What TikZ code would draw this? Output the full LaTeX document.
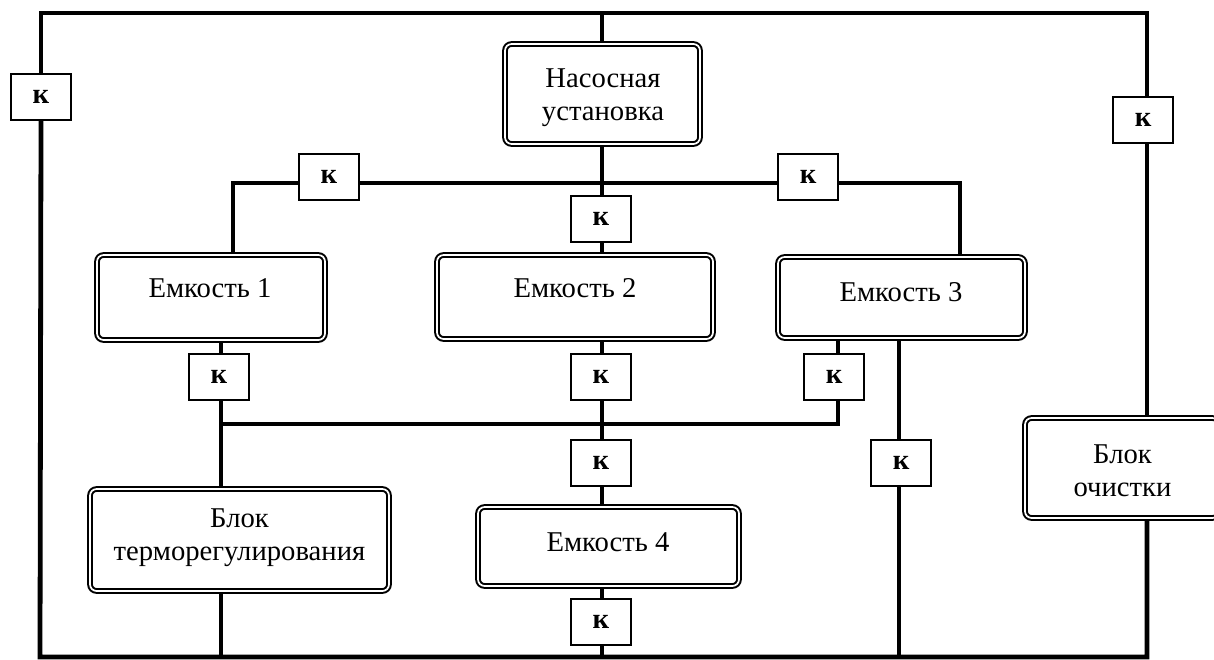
\documentclass[tikz,border=0pt]{standalone}
\usepackage{fontspec}
\setmainfont{Liberation Serif}
\newcommand\dfont{\fontsize{21.5pt}{24.75pt}\selectfont}
\begin{document}
\begin{tikzpicture}[x=0.75pt,y=-0.75pt,
  dbox/.style={draw, line width=1.5pt, double=white, double distance=1.3pt,
    rounded corners=5pt, inner sep=0pt},
  kbox/.style={draw, line width=0.9pt, fill=white, minimum width=45pt,
    minimum height=34.5pt, inner sep=0pt, font=\dfont\bfseries},
  lbl/.style={inner sep=0pt, align=center, font=\dfont},
  pipe/.style={line width=3.6pt, line join=miter}]
\useasboundingbox (0,0) rectangle (1214,660);
% boxes
\node[dbox, minimum width=146.25pt, minimum height=75pt] (nas) at (602.5,94) {};
\node[dbox, minimum width=171pt, minimum height=63.75pt] (e1) at (211,297.5) {};
\node[dbox, minimum width=207pt, minimum height=63pt] (e2) at (575,297) {};
\node[dbox, minimum width=185.25pt, minimum height=60.75pt] (e3) at (901.5,297.5) {};
\node[dbox, minimum width=195.75pt, minimum height=59.25pt] (e4) at (608.5,546.5) {};
\node[dbox, minimum width=224.25pt, minimum height=76.5pt] (te) at (239.5,540) {};
\node[dbox, minimum width=145.5pt, minimum height=75pt] (och) at (1122,468) {};
% texts
\node[lbl] (tnas) at (603,98) {Насосная\\установка};
\node[lbl] (te1) at (210,288) {Емкость 1};
\node[lbl] (te2) at (575,288) {Емкость 2};
\node[lbl] (te3) at (901,292) {Емкость 3};
\node[lbl] (te4) at (608,542) {Емкость 4};
\node[lbl] (tte) at (239.5,538) {Блок\\терморегулирования};
\node[lbl] (toch) at (1122.5,471) {Блок\\очистки};
% valves
\node[kbox] (kl) at (41,97) {к};
\node[kbox] (kr) at (1143,120) {к};
\node[kbox] (k1) at (329,177) {к};
\node[kbox] (k2) at (601,219) {к};
\node[kbox] (k3) at (808,177) {к};
\node[kbox] (k4) at (219,377) {к};
\node[kbox] (k5) at (601,377) {к};
\node[kbox] (k6) at (834,377) {к};
\node[kbox] (k7) at (601,463) {к};
\node[kbox] (k8) at (901,463) {к};
\node[kbox] (k9) at (601,622) {к};
% junction points
\coordinate (tl) at (41,13);
\coordinate (tr) at (1147,13);
\coordinate (bl) at (40,657);
\coordinate (br) at (1147,657);
\coordinate (b1) at (233,183);
\coordinate (b3) at (960,183);
\coordinate (h1) at (221,424);
\coordinate (h3) at (838,424);
\coordinate (vn) at (602,13);
\coordinate (vr) at (1147,120);
\coordinate (v3) at (899,424);
% pipes
\draw[pipe] (kl.north) -- (tl) -- (tr) -- (vr |- kr.north);
\draw[pipe] (kl.south) -- (bl) -- (br) -- (br |- och.south);
\draw[pipe] (vr |- kr.south) -- (vr |- och.north);
\draw[pipe] (vn) -- (vn |- nas.north);
\draw[pipe] (vn |- nas.south) -- (vn |- k2.north);
\draw[pipe] (vn |- k2.south) -- (vn |- e2.north);
\draw[pipe] (b1 |- e1.north) -- (b1) -- (b1 -| k1.west);
\draw[pipe] (b1 -| k1.east) -- (b1 -| k3.west);
\draw[pipe] (b3 -| k3.east) -- (b3) -- (b3 |- e3.north);
\draw[pipe] (h1 |- e1.south) -- (h1 |- k4.north);
\draw[pipe] (h1 |- k4.south) -- (h1 |- te.north);
\draw[pipe] (h1) -- (h3) -- (h3 |- k6.south);
\draw[pipe] (h3 |- k6.north) -- (h3 |- e3.south);
\draw[pipe] (vn |- e2.south) -- (vn |- k5.north);
\draw[pipe] (vn |- k5.south) -- (vn |- k7.north);
\draw[pipe] (vn |- k7.south) -- (vn |- e4.north);
\draw[pipe] (vn |- e4.south) -- (vn |- k9.north);
\draw[pipe] (vn |- k9.south) -- (vn |- bl);
\draw[pipe] (h1 |- te.south) -- (h1 |- bl);
\draw[pipe] (v3 |- e3.south) -- (v3 |- k8.north);
\draw[pipe] (v3 |- k8.south) -- (v3 |- bl);
\end{tikzpicture}
\end{document}
